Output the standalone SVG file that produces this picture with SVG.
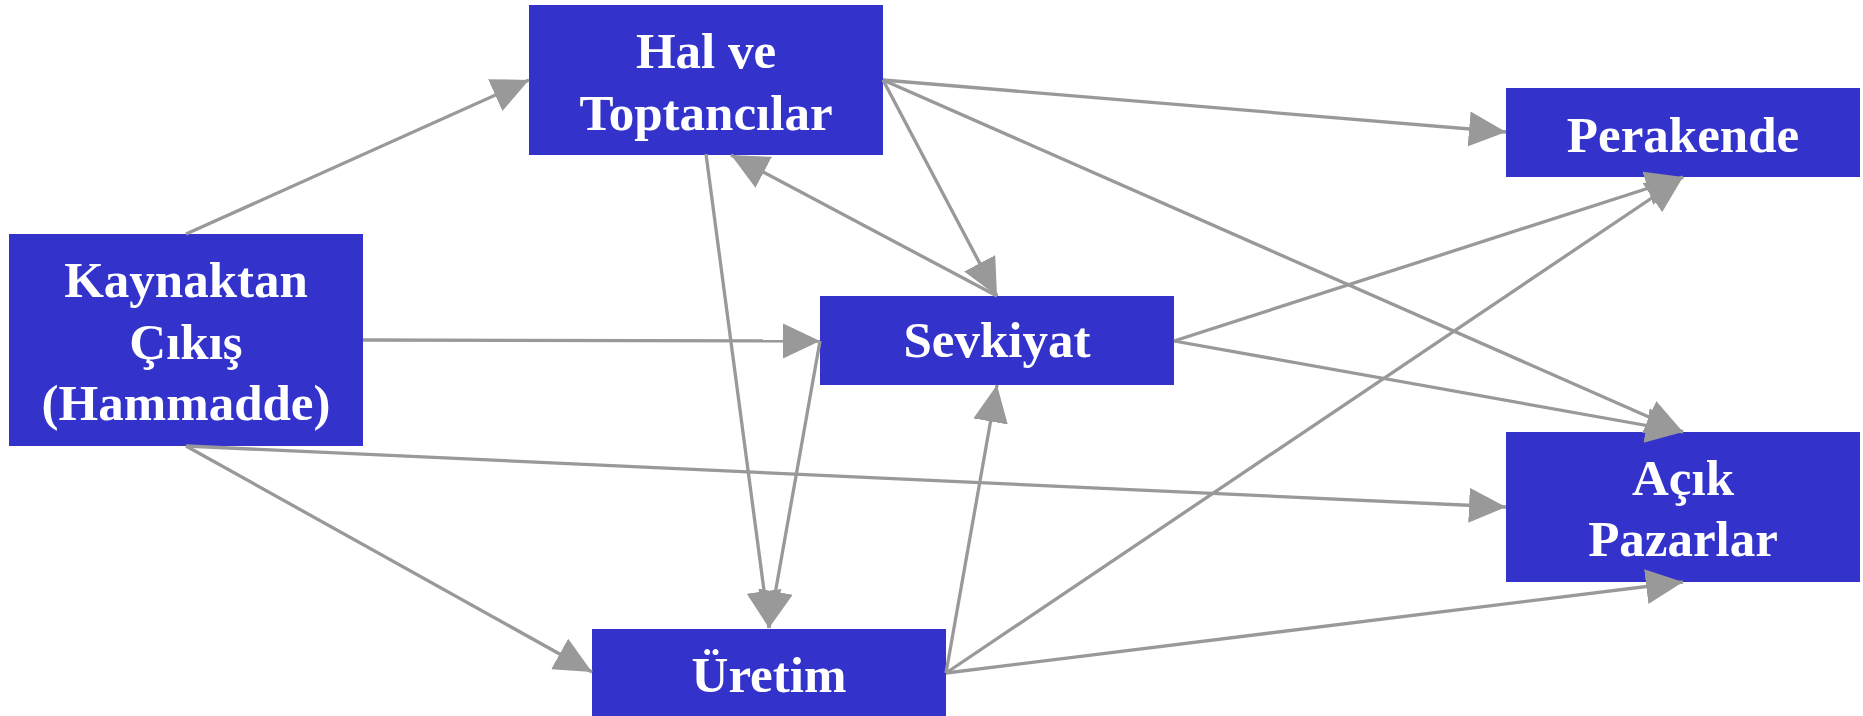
<svg xmlns="http://www.w3.org/2000/svg" width="1863" height="716" viewBox="0 0 1863 716">
<style>
.box{fill:#3333cc}
.lbl{font-family:"Liberation Serif","Times New Roman",serif;font-weight:bold;font-size:51px;fill:#ffffff;text-anchor:middle}
.c{stroke:#999999;stroke-width:3.3;fill:none;marker-end:url(#ah)}
</style>
<defs>
<marker id="ah" markerUnits="userSpaceOnUse" markerWidth="38" markerHeight="36" refX="37" refY="17.5" orient="auto" viewBox="0 0 38 36">
<path d="M0,0 L37,17.5 L0,35 z" fill="#999999"/>
</marker>
</defs>
<rect width="1863" height="716" fill="#ffffff"/>
<g id="n-hal"><rect class="box" x="529" y="5" width="354" height="150"/><text class="lbl" x="706" y="68">Hal ve</text><text class="lbl" x="706" y="130">Toptancılar</text></g>
<g id="n-kaynak"><rect class="box" x="9" y="234" width="354" height="212"/><text class="lbl" x="186" y="297">Kaynaktan</text><text class="lbl" x="186" y="359">Çıkış</text><text class="lbl" x="186" y="420">(Hammadde)</text></g>
<g id="n-sevkiyat"><rect class="box" x="820" y="296" width="354" height="89"/><text class="lbl" x="997" y="357">Sevkiyat</text></g>
<g id="n-perakende"><rect class="box" x="1506" y="88" width="354" height="89"/><text class="lbl" x="1683" y="152">Perakende</text></g>
<g id="n-acik"><rect class="box" x="1506" y="432" width="354" height="150"/><text class="lbl" x="1683" y="495">Açık</text><text class="lbl" x="1683" y="556">Pazarlar</text></g>
<g id="n-uretim"><rect class="box" x="592" y="629" width="354" height="87"/><text class="lbl" x="769" y="692">Üretim</text></g>
<g id="connectors">
<line class="c" x1="186" y1="234" x2="529" y2="80"/>
<line class="c" x1="363" y1="340" x2="820" y2="341"/>
<line class="c" x1="186" y1="446" x2="1506" y2="507"/>
<line class="c" x1="186" y1="446" x2="592" y2="672"/>
<line class="c" x1="706" y1="154" x2="769" y2="628"/>
<line class="c" x1="997" y1="296" x2="731" y2="155"/>
<line class="c" x1="820" y1="341" x2="769" y2="628"/>
<line class="c" x1="883" y1="80" x2="997" y2="296"/>
<line class="c" x1="883" y1="80" x2="1506" y2="132"/>
<line class="c" x1="883" y1="80" x2="1683" y2="432"/>
<line class="c" x1="1174" y1="341" x2="1683" y2="432"/>
<line class="c" x1="1174" y1="341" x2="1683" y2="177"/>
<line class="c" x1="946" y1="673" x2="1683" y2="177"/>
<line class="c" x1="946" y1="673" x2="1683" y2="582"/>
<line class="c" x1="946" y1="673" x2="997" y2="385"/>
</g>
</svg>
